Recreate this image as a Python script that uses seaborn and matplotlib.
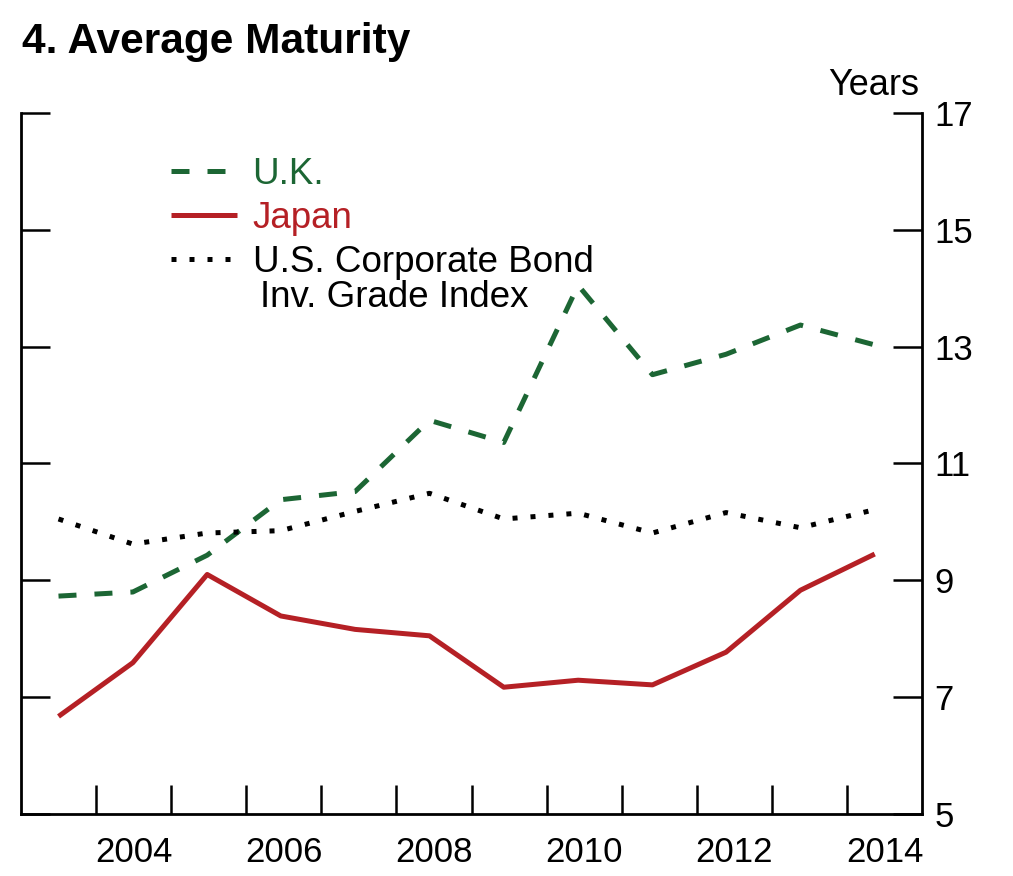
import numpy as np
import pandas as pd
import matplotlib
matplotlib.use("Agg")
import matplotlib.pyplot as plt
import seaborn as sns

# observation dates (fractional years) and average maturity in years
obs_year = [2003.50, 2004.49, 2005.48, 2006.46, 2007.45, 2008.44,
            2009.43, 2010.42, 2011.41, 2012.39, 2013.38, 2014.37]
uk = [8.73, 8.80, 9.43, 10.38, 10.52, 11.74, 11.36, 14.05, 12.52, 12.87, 13.37, 13.03]
japan = [6.67, 7.59, 9.10, 8.39, 8.16, 8.05, 7.17, 7.29, 7.21, 7.77, 8.83, 9.45]
us_corp = [10.05, 9.62, 9.81, 9.85, 10.18, 10.49, 10.05, 10.15, 9.81, 10.16, 9.90, 10.21]

year_labels = [2004, 2006, 2008, 2010, 2012, 2014]
y_ticks = [5, 7, 9, 11, 13, 15, 17]

GREEN = "#1c6634"
RED = "#b52025"

df = pd.DataFrame({"year": obs_year, "uk": uk, "japan": japan, "us": us_corp})

sns.set_theme(style="ticks")
plt.rcParams["font.family"] = ["Liberation Sans", "DejaVu Sans"]
plt.rcParams["text.color"] = "black"
plt.rcParams["xtick.color"] = "black"
plt.rcParams["ytick.color"] = "black"
plt.rcParams["xtick.labelcolor"] = "black"
plt.rcParams["ytick.labelcolor"] = "black"

fig = plt.figure(figsize=(10.13, 8.76), dpi=100)
ax = fig.add_axes([0.0207, 0.0708, 0.8895, 0.8002])

sns.lineplot(data=df, x="year", y="uk", ax=ax, color=GREEN, lw=3.6,
             label="U.K.")
sns.lineplot(data=df, x="year", y="japan", ax=ax, color=RED, lw=3.6,
             label="Japan")
sns.lineplot(data=df, x="year", y="us", ax=ax, color="black", lw=3.6,
             label="U.S. Corporate Bond")

lines = ax.get_lines()
lines[0].set_dashes((3.6, 3.6))
lines[2].set_dashes((1.0, 2.6))
for ln in lines:
    ln.set_dash_capstyle("butt")
    ln.set_solid_capstyle("butt")

ax.set_xlim(2003, 2015)
ax.set_ylim(5, 17)

# x axis: ticks on year boundaries, labels mid-year
ax.set_xticks(list(range(2004, 2015)))
ax.set_xticklabels([])
ax.set_xticks([y + 0.5 for y in year_labels], minor=True)
ax.set_xticklabels([str(y) for y in year_labels], minor=True)
ax.tick_params(axis="x", which="major", direction="in", length=21, width=1.8)
ax.tick_params(axis="x", which="minor", length=0, pad=16, labelsize=25)

ax.set_yticks(y_ticks)
ax.tick_params(axis="y", direction="in", length=21, width=1.8,
               left=True, right=True, labelleft=False, labelright=True,
               labelsize=25, pad=9)

ax.set_xlabel("")
ax.set_ylabel("")
ax.spines["top"].set_visible(False)
for side in ["left", "right", "bottom"]:
    ax.spines[side].set_linewidth(2.0)
    ax.spines[side].set_color("black")

leg = ax.legend(loc="upper left", bbox_to_anchor=(0.150, 0.958), frameon=False,
                fontsize=26.5, handlelength=1.8, handletextpad=0.42,
                labelspacing=0.24, borderaxespad=0)
for txt, col in zip(leg.get_texts(), [GREEN, RED, "black"]):
    txt.set_color(col)

ax.text(0.265, 0.723, "Inv. Grade Index", transform=ax.transAxes,
        ha="left", va="baseline", fontsize=26.5)

ax.text(0.997, 1.026, "Years", transform=ax.transAxes, ha="right",
        va="baseline", fontsize=26)
fig.text(0.0217, 0.94, "4. Average Maturity", ha="left", va="baseline",
         fontsize=30.5, fontweight="bold")

fig.savefig("out.png", dpi=100)
